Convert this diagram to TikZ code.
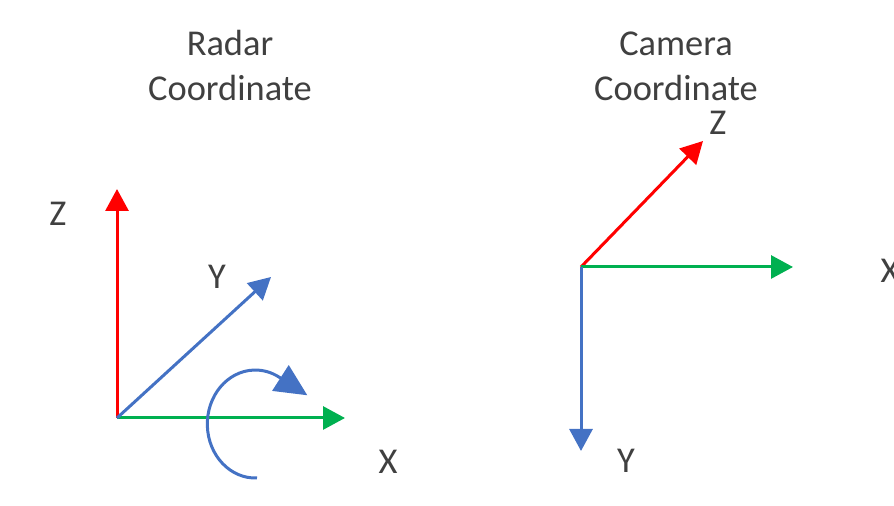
\documentclass[tikz,border=0pt]{standalone}
\usepackage{fontspec}
\setmainfont{Carlito}
\usetikzlibrary{arrows.meta}
\definecolor{axred}{RGB}{255,0,0}
\definecolor{axgreen}{RGB}{0,176,80}
\definecolor{axblue}{RGB}{68,114,196}
\definecolor{txt}{RGB}{64,64,64}

\begin{document}
\begin{tikzpicture}[x=0.5pt,y=-0.5pt,
  axis/.style={line width=1.5pt,-{Triangle[length=11pt,width=11.5pt]}},
  lbl/.style={font=\fontsize{18.2}{22.5}\selectfont,text=txt,align=center}]
  \useasboundingbox (0,0) rectangle (894,506);
  \clip (0,0) rectangle (894,506);
  % radar frame
  \coordinate (ro) at (117,418);
  \coordinate (rx) at (345,418);
  \coordinate (ry) at (271,277);
  \coordinate (rz) at (117,189);
  \draw[axis,axred] (ro) -- (rz);
  \draw[axis,axgreen] (ro) -- (rx);
  \draw[axis,axblue] (ro) -- (ry);
  \coordinate (rot) at (257,478);
  \draw[axblue,line width=1.5pt,-{Triangle[length=16pt,width=15pt]}]
    (rot) arc[start angle=88,end angle=300,x radius=48,y radius=54] -- ++(28,18);
  \node[lbl] (rtitle) at (230,66) {Radar\\Coordinate};
  \node[lbl] (rzl) at (58,214) {Z};
  \node[lbl] (ryl) at (217,277) {Y};
  \node[lbl] (rxl) at (388,462) {X};
  % camera frame
  \coordinate (co) at (581,267);
  \coordinate (cx) at (793,267);
  \coordinate (cy) at (581,451);
  \coordinate (cz) at (703,141);
  \draw[axis,axred] (co) -- (cz);
  \draw[axis,axgreen] (co) -- (cx);
  \draw[axis,axblue] (co) -- (cy);
  \node[lbl] (ctitle) at (676,66) {Camera\\Coordinate};
  \node[lbl] (czl) at (718,123) {Z};
  \node[lbl] (cxl) at (890,271) {X};
  \node[lbl] (cyl) at (626,461) {Y};
\end{tikzpicture}
\end{document}
